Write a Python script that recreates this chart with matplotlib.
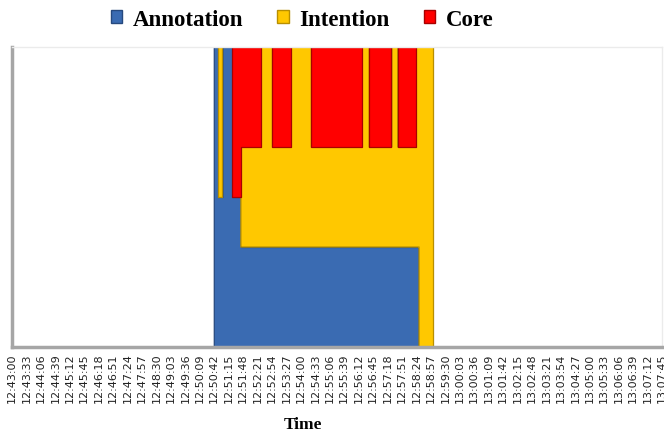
import numpy as np
import matplotlib.pyplot as plt
from matplotlib.patches import Patch

# Session window, one category per second
t_first = "12:43:00"
t_last = "13:07:45"
tick_step = 33  # seconds between axis labels

# Start of each segment and how many items of each kind are active in it
seg_start  = ["12:50:41", "12:50:51", "12:51:01", "12:51:23", "12:51:43", "12:52:29",
              "12:52:55", "12:53:38", "12:54:24", "12:56:20", "12:56:36", "12:57:28",
              "12:57:41", "12:58:23", "12:58:30", "12:59:04"]
annotation = [1, 1, 1, 1, 1, 1, 1, 1, 1, 1, 1, 1, 1, 1, 0, 0]
intention  = [0, 1, 0, 0, 1, 2, 1, 2, 1, 2, 1, 2, 1, 2, 1, 0]
core       = [0, 0, 0, 1, 1, 0, 1, 0, 1, 0, 1, 0, 1, 0, 0, 0]

names  = ["Annotation", "Intention", "Core"]
colors = ["#3A6BB2", "#FFC800", "#FF0000"]
edges  = ["#26497E", "#B88F00", "#A80000"]


def secs(s):
    h, m, sec = map(int, s.split(":"))
    return h * 3600 + m * 60 + sec


t0 = secs(t_first)
n = secs(t_last) - t0 + 1
x = np.arange(n)

# expand segments to one value per second
series = np.zeros((3, n))
starts = [secs(s) - t0 for s in seg_start] + [n]
for k in range(len(seg_start)):
    series[0, starts[k]:starts[k + 1]] = annotation[k]
    series[1, starts[k]:starts[k + 1]] = intention[k]
    series[2, starts[k]:starts[k + 1]] = core[k]

# 100% stacked
total = series.sum(axis=0)
pct = np.where(total > 0, series / np.where(total > 0, total, 1) * 100, 0)
cum = np.vstack([np.zeros(n), np.cumsum(pct, axis=0)])

fig = plt.figure(figsize=(6.64, 4.35), dpi=100)
ax = fig.add_axes([12 / 664, 1 - 348 / 435, 650 / 664, 300 / 435])

for k in range(3):
    ax.fill_between(x, cum[k], cum[k + 1], where=pct[k] > 0, step="post",
                    facecolor=colors[k], edgecolor=edges[k], linewidth=0.9)

ax.set_xlim(0, n - 1)
ax.set_ylim(0, 100)
ax.set_yticks([])

ticks = np.arange(0, n, tick_step)
labels = []
for tk in ticks:
    s = t0 + tk
    labels.append("%02d:%02d:%02d" % (s // 3600, (s % 3600) // 60, s % 60))
ax.set_xticks(ticks)
ax.set_xticklabels(labels, rotation=90, fontsize=8, color="#222222")
ax.tick_params(axis="x", length=0, pad=4)

for side in ["left", "bottom"]:
    ax.spines[side].set_color("#A6A6A6")
    ax.spines[side].set_linewidth(2.5)
for side in ["top", "right"]:
    ax.spines[side].set_color("#EBEBEB")
    ax.spines[side].set_linewidth(1)

handles = [Patch(facecolor=colors[k], edgecolor=edges[k]) for k in range(3)]
fig.legend(handles, names, loc="upper center", bbox_to_anchor=(0.455, 1.025), ncol=3,
           frameon=False, handlelength=0.5, handleheight=0.5, handletextpad=0.45,
           columnspacing=1.5,
           prop={"family": "Liberation Serif", "weight": "bold", "size": 16.5})

fig.text(303 / 664, 1 - 425 / 435, "Time", ha="center", va="center",
         family="Liberation Serif", weight="bold", fontsize=12.5)

fig.savefig("out.png", dpi=100)
